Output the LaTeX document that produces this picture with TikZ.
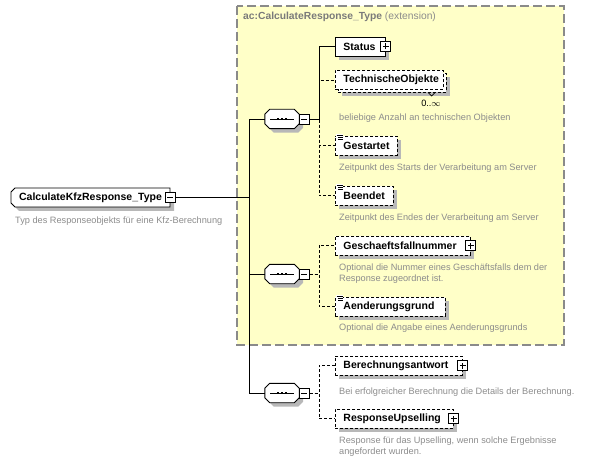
\documentclass[tikz,border=0pt]{standalone}
\usepackage{fontspec}
\setmainfont{Liberation Sans}
\definecolor{boxyellow}{HTML}{FFFFC8}
\definecolor{descgray}{HTML}{8C8C8C}
\definecolor{titlegray}{HTML}{7A7A7A}
\definecolor{framegray}{HTML}{8A8A8A}
\definecolor{schattengrau}{HTML}{B8B8B8}
\tikzset{
  schattenfill/.style={fill=schattengrau,draw=none},
  link/.style={line width=0.9pt},
  opt/.style={dash pattern=on 3pt off 2pt},
  elem/.style={draw,link,fill=white,anchor=west,align=left,minimum height=19pt,
    inner ysep=0pt,inner xsep=8pt,font=\fontsize{10.5}{12}\selectfont\bfseries},
  wurzel/.style={inner sep=0pt,minimum width=159pt,minimum height=19pt,font=\fontsize{10.5}{12}\selectfont\bfseries},
  pmbox/.style={draw,link,fill=white,minimum size=10pt,inner sep=0pt},
  minusbox/.style={pmbox,path picture={\draw[link] ([xshift=2pt]path picture bounding box.west) -- ([xshift=-2pt]path picture bounding box.east);}},
  plusbox/.style={pmbox,path picture={\draw[link] ([xshift=2pt]path picture bounding box.west) -- ([xshift=-2pt]path picture bounding box.east)
    ([yshift=2pt]path picture bounding box.south) -- ([yshift=-2pt]path picture bounding box.north);}},
  desc/.style={anchor=west,align=left,inner sep=0pt,text=descgray,font=\fontsize{9.2}{11.5}\selectfont},
  titel/.style={anchor=west,inner sep=0pt,text=titlegray,font=\fontsize{10.3}{12}\selectfont},
  rahmen/.style={draw=framegray,fill=boxyellow,line width=1.4pt,dash pattern=on 9pt off 4pt}
}
\newcommand{\elem}[5]{\path[schattenfill] (339,{#2-5.5}) rectangle ({#4+355},{#2+13.5});
  \node[elem,#5,text width=#4pt] (#1) at (335,#2) {#3};}
\newcommand{\plus}[1]{\node[plusbox] (#1p) at (#1.east) {};}
\newcommand{\attrmark}[1]{\fill[white] ([xshift=1pt,yshift=1.5pt]#1.north west) rectangle ([xshift=8pt,yshift=-5pt]#1.north west);
  \draw[line width=0.8pt] ([xshift=1.5pt]#1.north west) -- ([xshift=7.5pt]#1.north west)
    ([xshift=3pt,yshift=-2pt]#1.north west) -- ([xshift=7.5pt,yshift=-2pt]#1.north west)
    ([xshift=3pt,yshift=-4pt]#1.north west) -- ([xshift=7.5pt,yshift=-4pt]#1.north west);}
\newcommand{\oktpath}[3]{([xshift=#2+5pt,yshift=#3]#1.north west) -- ([xshift=#2-5pt,yshift=#3]#1.north east)
    -- ([xshift=#2,yshift=#3-5pt]#1.north east) -- ([xshift=#2,yshift=#3+5pt]#1.south east)
    -- ([xshift=#2-5pt,yshift=#3]#1.south east) -- ([xshift=#2+5pt,yshift=#3]#1.south west)
    -- ([xshift=#2,yshift=#3+5pt]#1.south west) -- ([xshift=#2,yshift=#3-5pt]#1.north west) -- cycle}
\newcommand{\seqnode}[2]{\node[minimum width=34pt,minimum height=19pt,inner sep=0pt] (#1) at (282,#2) {};
  \path[schattenfill] \oktpath{#1}{4pt}{-4pt};
  \draw[link,fill=white] \oktpath{#1}{0pt}{0pt};
  \draw[link] ([xshift=-12pt]#1.center) -- ([xshift=12pt]#1.center);
  \foreach \d in {-4,0,4} \fill ([xshift=\d pt-1.2pt,yshift=-1.3pt]#1.center) rectangle ([xshift=\d pt+1.2pt,yshift=1.3pt]#1.center);
  \node[minusbox] (#1m) at ([xshift=5pt]#1.east) {};}
\newcommand{\desc}[4]{\node[desc] (#1) at (#2,#3) {#4};}

\begin{document}
\begin{tikzpicture}[x=1pt,y=-1pt]
  \useasboundingbox (0,0) rectangle (596,462);
  \draw[rahmen] (237,6) rectangle (564,345);
  \node[titel] (titel) at (243,17) {\textbf{ac:CalculateResponse\_Type} {\color{descgray}(extension)}};

  \path[schattenfill] (19,192) -- (174,192) -- (174,211) -- (19,211) -- (15,207) -- (15,196) -- cycle;
  \draw[link,fill=white] (15,188) -- (170,188) -- (170,207) -- (15,207) -- (11,203) -- (11,192) -- cycle;
  \node[wurzel] (root) at (90.5,197.5) {CalculateKfzResponse\_Type};
  \node[minusbox] (rootm) at (root.east) {};
  \desc{rootd}{15}{221}{Typ des Responseobjekts für eine Kfz-Berechnung}

  \seqnode{seqA}{119} \seqnode{seqB}{274} \seqnode{seqC}{393}
  \draw[link] (rootm.east) -| ([xshift=-15pt]seqA.west) -- (seqA.west);
  \draw[link] (rootm.east) -| ([xshift=-15pt]seqC.west) -- (seqC.west);
  \draw[link] ([xshift=-15pt]seqB.west) -- (seqB.west);

  \draw[link,opt] (seqAm.east) -| (319,80) -- (335,80);
  \draw[link,opt] (seqAm.east) -| (319,145.5) -- (335,145.5);
  \draw[link,opt] (seqAm.east) -| (319,195.5) -- (335,195.5);
  \draw[link,opt] (seqBm.east) -| (319,245.5) -- (335,245.5);
  \draw[link,opt] (seqBm.east) -| (319,306.5) -- (335,306.5);
  \draw[link,opt] (seqCm.east) -| (319,365.5) -- (335,365.5);
  \draw[link,opt] (seqCm.east) -| (319,418.5) -- (335,418.5);
  \draw[link] (seqAm.east) -| (319,46.5) -- (335,46.5);

  \elem{status}{46.5}{Status}{34}{} \plus{status}
  \path[schattenfill] (342,77.5) rectangle (450,96.5);
  \node[elem,opt,text width=92pt] (techback) at (338,83) {\phantom{TechnischeObjekte}};
  \draw[line width=0.7pt] (428,92.5) -- (431.5,96) -- (435,92.5);
  \node[elem,opt,text width=92pt] (technik) at (335,80) {TechnischeObjekte};
  \node[font=\fontsize{9.2}{11}\selectfont,inner sep=0pt] (technikm) at (431,103) {0..\(\infty\)};
  \desc{technikd}{339}{118}{beliebige Anzahl an technischen Objekten}
  \elem{gestartet}{145.5}{Gestartet}{46}{opt} \attrmark{gestartet}
  \desc{gestartetd}{339}{168}{Zeitpunkt des Starts der Verarbeitung am Server}
  \elem{beendet}{195.5}{Beendet}{42}{opt} \attrmark{beendet}
  \desc{beendetd}{339}{218}{Zeitpunkt des Endes der Verarbeitung am Server}

  \elem{gfnr}{245.5}{Geschaeftsfallnummer}{119}{opt} \plus{gfnr}
  \desc{gfnrd}{339}{273.5}{Optional die Nummer eines Geschäftsfalls dem der\\Response zugeordnet ist.}
  \elem{grund}{306.5}{Aenderungsgrund}{94}{opt} \attrmark{grund}
  \desc{grundd}{339}{328}{Optional die Angabe eines Aenderungsgrunds}

  \elem{antwort}{365.5}{Berechnungsantwort}{111}{opt} \plus{antwort}
  \desc{antwortd}{339}{392}{Bei erfolgreicher Berechnung die Details der Berechnung.}
  \elem{upsell}{418.5}{ResponseUpselling}{102}{opt} \plus{upsell}
  \desc{upselld}{339}{446.5}{Response für das Upselling, wenn solche Ergebnisse\\angefordert wurden.}
\end{tikzpicture}
\end{document}
